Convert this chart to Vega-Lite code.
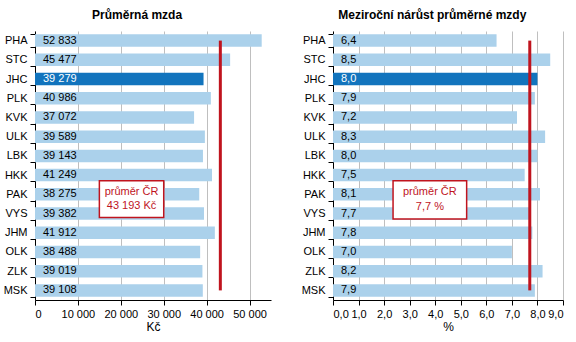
{
  "$schema": "https://vega.github.io/schema/vega-lite/v6.json",
  "padding": {"left": 3, "top": 9, "right": 5, "bottom": 0},
  "config": {
    "locale": {"number": {"decimal": ",", "thousands": " ", "grouping": [3], "currency": ["", " Kč"]}},
    "font": "Liberation Sans",
    "view": {"stroke": null},
    "title": {"fontSize": 12, "fontWeight": "bold", "color": "black", "anchor": "middle", "frame": "bounds", "offset": 3},
    "axisX": {"grid": true, "gridColor": "#BFBFBF", "domain": true, "domainColor": "black", "ticks": true, "tickColor": "black", "tickSize": 5, "labelFontSize": 11, "labelColor": "black", "labelOverlap": false, "titleFontSize": 12, "titleFontWeight": "normal", "titleColor": "black", "titlePadding": 2, "labelPadding": 3},
    "axisY": {"domain": true, "domainColor": "black", "domainWidth": 1, "ticks": true, "tickColor": "black", "tickSize": 5, "tickBand": "extent", "labelFontSize": 11, "labelColor": "black", "labelPadding": 3, "minExtent": 30, "maxExtent": 30, "grid": false, "zindex": 1}
  },
  "datasets": {
    "regions": [
      {"region": "PHA", "wage": 52833, "growth": 6.4},
      {"region": "STC", "wage": 45477, "growth": 8.5},
      {"region": "JHC", "wage": 39279, "growth": 8.0},
      {"region": "PLK", "wage": 40986, "growth": 7.9},
      {"region": "KVK", "wage": 37072, "growth": 7.2},
      {"region": "ULK", "wage": 39589, "growth": 8.3},
      {"region": "LBK", "wage": 39143, "growth": 8.0},
      {"region": "HKK", "wage": 41249, "growth": 7.5},
      {"region": "PAK", "wage": 38275, "growth": 8.1},
      {"region": "VYS", "wage": 39382, "growth": 7.7},
      {"region": "JHM", "wage": 41912, "growth": 7.8},
      {"region": "OLK", "wage": 38488, "growth": 7.0},
      {"region": "ZLK", "wage": 39019, "growth": 8.2},
      {"region": "MSK", "wage": 39108, "growth": 7.9}
    ],
    "wageAvg": [
      {"avg": 43193, "r1": 0.5, "r2": 13.5, "bx1": 15000, "bx2": 30000, "by1": 7.8, "by2": 9.7, "tx": 22500, "ty1": 8.38, "ty2": 9.12, "line1": "průměr ČR", "line2": "43 193 Kč"}
    ],
    "growthAvg": [
      {"avg": 7.7, "r1": 0.5, "r2": 13.5, "bx1": 2.35, "bx2": 5.23, "by1": 7.8, "by2": 9.78, "tx": 3.79, "ty1": 8.4, "ty2": 9.16, "line1": "průměr ČR", "line2": "7,7 %"}
    ]
  },
  "spacing": 30,
  "hconcat": [
    {
      "title": "Průměrná mzda",
      "width": 236,
      "height": 269,
      "resolve": {"scale": {"y": "independent"}, "axis": {"y": "independent"}},
      "layer": [
        {
          "data": {"name": "regions"},
          "layer": [
            {
              "mark": {"type": "bar"},
              "encoding": {
                "y": {"field": "region", "type": "nominal", "sort": null, "title": null, "scale": {"paddingInner": 0.35, "paddingOuter": 0.175}},
                "x": {"field": "wage", "type": "quantitative", "title": "Kč", "scale": {"domain": [0, 55000], "nice": false}, "axis": {"values": [0, 10000, 20000, 30000, 40000, 50000], "format": ",d"}},
                "color": {"condition": {"test": "datum.region === 'JHC'", "value": "#1274BD"}, "value": "#ABD1EB"}
              }
            },
            {
              "mark": {"type": "text", "align": "left", "baseline": "middle", "dx": 8, "fontSize": 11},
              "encoding": {
                "y": {"field": "region", "type": "nominal", "sort": null},
                "x": {"datum": 0, "type": "quantitative", "title": "Kč", "axis": {"values": [0, 10000, 20000, 30000, 40000, 50000], "format": ",d"}},
                "text": {"field": "wage", "type": "quantitative", "format": ",d"},
                "color": {"condition": {"test": "datum.region === 'JHC'", "value": "white"}, "value": "black"}
              }
            }
          ]
        },
        {
          "data": {"name": "wageAvg"},
          "layer": [
            {
              "mark": {"type": "rule", "color": "#C0141E", "strokeWidth": 3},
              "encoding": {
                "x": {"field": "avg", "type": "quantitative", "title": "Kč"},
                "y": {"field": "r1", "type": "quantitative", "scale": {"domain": [0, 14], "reverse": true, "nice": false}, "axis": null},
                "y2": {"field": "r2"}
              }
            },
            {
              "mark": {"type": "rect", "fill": "white", "stroke": "#C0141E", "strokeWidth": 1.5},
              "encoding": {
                "x": {"field": "bx1", "type": "quantitative", "title": "Kč"},
                "x2": {"field": "bx2"},
                "y": {"field": "by1", "type": "quantitative"},
                "y2": {"field": "by2"}
              }
            },
            {
              "mark": {"type": "text", "align": "center", "baseline": "middle", "fontSize": 11, "color": "#C0141E"},
              "encoding": {
                "x": {"field": "tx", "type": "quantitative", "title": "Kč"},
                "y": {"field": "ty1", "type": "quantitative"},
                "text": {"field": "line1"}
              }
            },
            {
              "mark": {"type": "text", "align": "center", "baseline": "middle", "fontSize": 11, "color": "#C0141E"},
              "encoding": {
                "x": {"field": "tx", "type": "quantitative", "title": "Kč"},
                "y": {"field": "ty2", "type": "quantitative"},
                "text": {"field": "line2"}
              }
            }
          ]
        }
      ]
    },
    {
      "title": "Meziroční nárůst průměrné mzdy",
      "width": 230,
      "height": 269,
      "resolve": {"scale": {"y": "independent"}, "axis": {"y": "independent"}},
      "layer": [
        {
          "data": {"name": "regions"},
          "layer": [
            {
              "mark": {"type": "bar"},
              "encoding": {
                "y": {"field": "region", "type": "nominal", "sort": null, "title": null, "scale": {"paddingInner": 0.35, "paddingOuter": 0.175}},
                "x": {"field": "growth", "type": "quantitative", "title": "%", "scale": {"domain": [0, 9], "nice": false}, "axis": {"values": [0, 1, 2, 3, 4, 5, 6, 7, 8, 9], "format": ".1f"}},
                "color": {"condition": {"test": "datum.region === 'JHC'", "value": "#1274BD"}, "value": "#ABD1EB"}
              }
            },
            {
              "mark": {"type": "text", "align": "left", "baseline": "middle", "dx": 8, "fontSize": 11},
              "encoding": {
                "y": {"field": "region", "type": "nominal", "sort": null},
                "x": {"datum": 0, "type": "quantitative", "title": "%", "axis": {"values": [0, 1, 2, 3, 4, 5, 6, 7, 8, 9], "format": ".1f"}},
                "text": {"field": "growth", "type": "quantitative", "format": ".1f"},
                "color": {"condition": {"test": "datum.region === 'JHC'", "value": "white"}, "value": "black"}
              }
            }
          ]
        },
        {
          "data": {"name": "growthAvg"},
          "layer": [
            {
              "mark": {"type": "rule", "color": "#C0141E", "strokeWidth": 3},
              "encoding": {
                "x": {"field": "avg", "type": "quantitative", "title": "%", "axis": {"values": [0, 1, 2, 3, 4, 5, 6, 7, 8, 9], "format": ".1f"}},
                "y": {"field": "r1", "type": "quantitative", "scale": {"domain": [0, 14], "reverse": true, "nice": false}, "axis": null},
                "y2": {"field": "r2"}
              }
            },
            {
              "mark": {"type": "rect", "fill": "white", "stroke": "#C0141E", "strokeWidth": 1.5},
              "encoding": {
                "x": {"field": "bx1", "type": "quantitative", "title": "%", "axis": {"values": [0, 1, 2, 3, 4, 5, 6, 7, 8, 9], "format": ".1f"}},
                "x2": {"field": "bx2"},
                "y": {"field": "by1", "type": "quantitative"},
                "y2": {"field": "by2"}
              }
            },
            {
              "mark": {"type": "text", "align": "center", "baseline": "middle", "fontSize": 11, "color": "#C0141E"},
              "encoding": {
                "x": {"field": "tx", "type": "quantitative", "title": "%", "axis": {"values": [0, 1, 2, 3, 4, 5, 6, 7, 8, 9], "format": ".1f"}},
                "y": {"field": "ty1", "type": "quantitative"},
                "text": {"field": "line1"}
              }
            },
            {
              "mark": {"type": "text", "align": "center", "baseline": "middle", "fontSize": 11, "color": "#C0141E"},
              "encoding": {
                "x": {"field": "tx", "type": "quantitative", "title": "%", "axis": {"values": [0, 1, 2, 3, 4, 5, 6, 7, 8, 9], "format": ".1f"}},
                "y": {"field": "ty2", "type": "quantitative"},
                "text": {"field": "line2"}
              }
            }
          ]
        }
      ]
    }
  ]
}
